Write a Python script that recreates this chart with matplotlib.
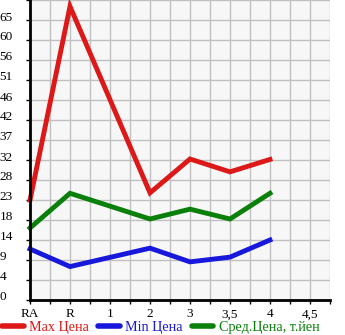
import matplotlib
matplotlib.use("Agg")
import matplotlib.pyplot as plt
import matplotlib.transforms as mtransforms

# данные с графика
x_labels = ["RA", "R", "1", "2", "3", "3,5", "4", "4,5"]
x_label_pos = [0, 2, 4, 6, 8, 10, 12, 14]
point_pos = [0, 2, 6, 8, 10, 12]  # RA, R, 2, 3, 3,5, 4
max_price = [23.3, 68.5, 25.0, 32.9, 29.9, 32.8]
min_price = [11.9, 7.8, 12.1, 8.9, 10.0, 14.0]
avg_price = [16.8, 24.9, 18.9, 21.2, 18.9, 24.9]
y_ticks = [70 * k / 15 for k in range(15)]
y_labels = [str(int(v)) for v in y_ticks]

RED = "#dc1818"
BLUE = "#1818dc"
GREEN = "#0a800a"

plt.rcParams["font.family"] = ["Liberation Serif", "DejaVu Serif"]

fig = plt.figure(figsize=(3.45, 3.35), dpi=100)
ax = fig.add_axes([30 / 345, 35 / 335, 300 / 345, 300 / 335])
ax.set_facecolor("#f7f7f7")

ax.set_xlim(0, 15)
ax.set_ylim(0, 70)
ax.set_xticks(x_label_pos)
ax.set_xticklabels(x_labels, fontsize=9.5)
ax.set_xticks(range(1, 16), minor=True)
ax.set_yticks(y_ticks + [70])
ax.set_yticklabels(y_labels + [""], fontsize=9.5, ha="left")
ax.grid(True, which="both", color="#c0c0c0", linewidth=1)
ax.set_axisbelow(True)

ax.tick_params(axis="y", length=3, width=1, pad=19)
ax.tick_params(axis="x", which="both", length=3, width=1, pad=3)
offset = mtransforms.ScaledTranslation(0, 4 / 100, fig.dpi_scale_trans)
for lab in ax.get_yticklabels():
    lab.set_transform(lab.get_transform() + offset)

for side in ["top", "right"]:
    ax.spines[side].set_visible(False)
ax.spines["left"].set_linewidth(2)
ax.spines["bottom"].set_linewidth(2)

kw = dict(linewidth=3.5, solid_joinstyle="miter", clip_on=False)
ax.plot(point_pos, max_price, color=RED, label="Max Цена", **kw)
ax.plot(point_pos, min_price, color=BLUE, label="Min Цена", **kw)
ax.plot(point_pos, avg_price, color=GREEN, label="Сред.Цена, т.йен", **kw)

leg = fig.legend(loc="lower left", bbox_to_anchor=(-0.022, -0.027), ncol=3,
                 frameon=False, fontsize=10.2, handlelength=1.5,
                 handletextpad=0.4, columnspacing=0.65, borderpad=0.2)
for h in leg.get_lines():
    h.set_solid_capstyle("round")
    h.set_linewidth(4)
for t, c in zip(leg.get_texts(), [RED, BLUE, GREEN]):
    t.set_color(c)

fig.savefig("out.png", dpi=100)
